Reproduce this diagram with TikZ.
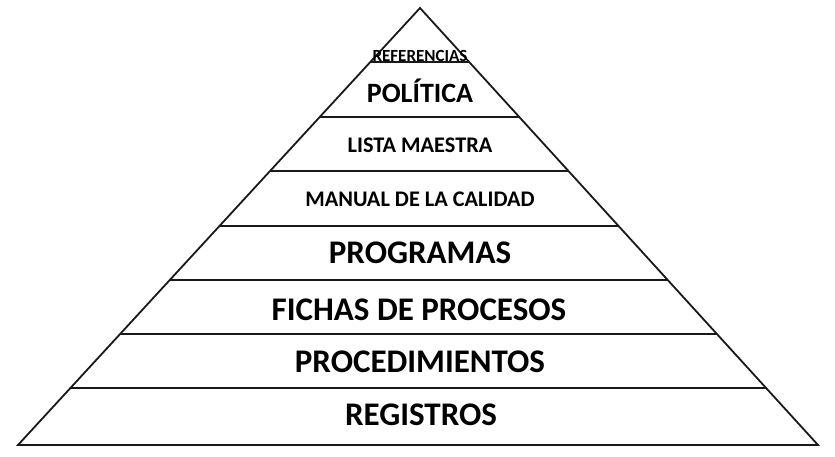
\documentclass[tikz,border=0pt]{standalone}
\usepackage{fontspec}
\setmainfont{Carlito}
\usetikzlibrary{calc}
\begin{document}
\begin{tikzpicture}[x=1pt,y=-1pt,
  edge/.style={draw=black!90,line width=1.8pt,line join=miter},
  lbl/.style={anchor=base,inner sep=0pt,font=\bfseries}]
\useasboundingbox (0,0) rectangle (835,456);
\coordinate (apex) at (420,8);
\coordinate (bl) at (18,445);
\coordinate (br) at (818,445);
\draw[edge] (apex) -- (bl) -- (br) -- cycle;
\foreach \y [count=\i] in {62,117,171,226,280,334,388}{
  \pgfmathsetmacro{\t}{(\y-8)/437}
  \coordinate (l\i) at ($(apex)!\t!(bl)$);
  \coordinate (r\i) at ($(apex)!\t!(br)$);
  \draw[edge] (l\i) -- (r\i);
}
\node[lbl,font=\bfseries\fontsize{17}{17}\selectfont] (ref) at (420,61) {REFERENCIAS};
\node[lbl,font=\bfseries\fontsize{28}{28}\selectfont] (pol) at (420,102) {POLÍTICA};
\node[lbl,font=\bfseries\fontsize{22.3}{22}\selectfont] (lista) at (420,152) {LISTA MAESTRA};
\node[lbl,font=\bfseries\fontsize{22.3}{22}\selectfont] (manual) at (420,206) {MANUAL DE LA CALIDAD};
\node[lbl,font=\bfseries\fontsize{33}{33}\selectfont] (prog) at (420,263) {PROGRAMAS};
\node[lbl,font=\bfseries\fontsize{33}{33}\selectfont] (fichas) at (419,320) {FICHAS DE PROCESOS};
\node[lbl,font=\bfseries\fontsize{33}{33}\selectfont] (proc) at (420,372) {PROCEDIMIENTOS};
\node[lbl,font=\bfseries\fontsize{33}{33}\selectfont] (reg) at (421,425) {REGISTROS};
\end{tikzpicture}
\end{document}
